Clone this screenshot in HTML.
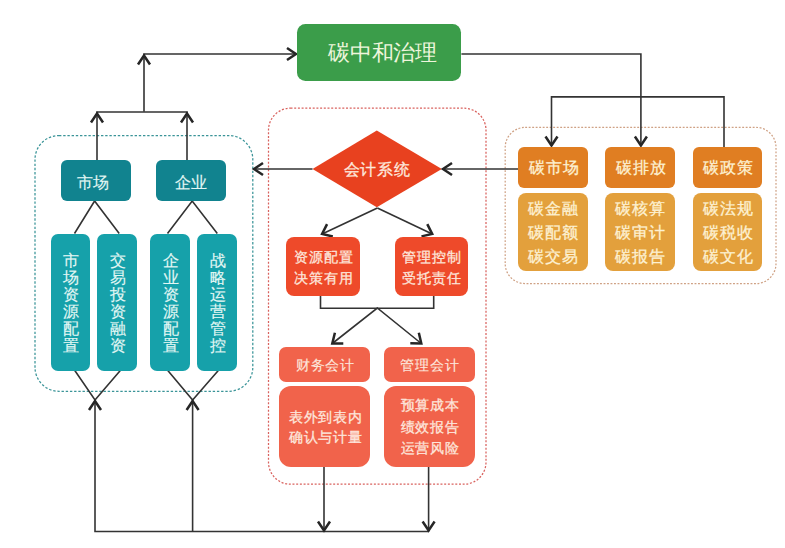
<!DOCTYPE html>
<html><head><meta charset="utf-8"><style>
html,body{margin:0;padding:0;background:#fff;}
body{width:785px;height:548px;position:relative;overflow:hidden;font-family:"Liberation Sans",sans-serif;}
svg{position:absolute;left:0;top:0;}
.b,.t{position:absolute;display:flex;align-items:center;justify-content:center;text-align:center;box-sizing:border-box;}
.t{line-height:1;}
</style></head><body>
<svg width="785" height="548" viewBox="0 0 785 548">
<rect x="35" y="135.5" width="217.8" height="255.8" rx="24" ry="24" fill="none" stroke="#3a9498" stroke-width="1.25" stroke-dasharray="2.4 1.8"/>
<rect x="268.5" y="108.2" width="217.5" height="376.0" rx="22" ry="22" fill="none" stroke="#d9625e" stroke-width="1.25" stroke-dasharray="2 1.7"/>
<rect x="505.2" y="127.4" width="270.8" height="156.20000000000002" rx="20" ry="20" fill="none" stroke="#cfa184" stroke-width="1.25" stroke-dasharray="1.9 1.6"/>
<polygon points="312.5,169 376.8,130.5 441.8,169 376.8,207.3" fill="#e8411f"/>
<polyline points="144,111.8 144,54 296.6,54" fill="none" stroke="#333333" stroke-width="1.6"/>
<polyline points="287,48 296,54 287,60" fill="none" stroke="#262626" stroke-width="2.5" stroke-linejoin="miter"/>
<polyline points="138,64.5 144,55.5 150,64.5" fill="none" stroke="#262626" stroke-width="2.5" stroke-linejoin="miter"/>
<polyline points="97,160.3 97,112 187,112 187,160.3" fill="none" stroke="#333333" stroke-width="1.6"/>
<polyline points="91,122.5 97,113.5 103,122.5" fill="none" stroke="#262626" stroke-width="2.5" stroke-linejoin="miter"/>
<polyline points="181,122.5 187,113.5 193,122.5" fill="none" stroke="#262626" stroke-width="2.5" stroke-linejoin="miter"/>
<polyline points="461.4,54 640.9,54 640.9,146" fill="none" stroke="#333333" stroke-width="1.6"/>
<polyline points="634.9,136.5 640.9,145.5 646.9,136.5" fill="none" stroke="#262626" stroke-width="2.5" stroke-linejoin="miter"/>
<polyline points="551.5,146 551.5,96.9 724,96.9 724,147.3" fill="none" stroke="#333333" stroke-width="1.6"/>
<polyline points="545.5,136.5 551.5,145.5 557.5,136.5" fill="none" stroke="#262626" stroke-width="2.5" stroke-linejoin="miter"/>
<polyline points="312.5,169 253.5,169" fill="none" stroke="#333333" stroke-width="1.6"/>
<polyline points="263,163 254,169 263,175" fill="none" stroke="#262626" stroke-width="2.5" stroke-linejoin="miter"/>
<polyline points="518.2,169 442,169" fill="none" stroke="#333333" stroke-width="1.6"/>
<polyline points="452,163 443,169 452,175" fill="none" stroke="#262626" stroke-width="2.5" stroke-linejoin="miter"/>
<polyline points="377.4,208 322.1,234" fill="none" stroke="#333333" stroke-width="1.6"/>
<polyline points="377.4,208 432.2,234" fill="none" stroke="#333333" stroke-width="1.6"/>
<polyline points="332.83,236.44 322.1,234 327.06,224.18" fill="none" stroke="#262626" stroke-width="2.5" stroke-linejoin="miter"/>
<polyline points="427.27,224.17 432.2,234 421.47,236.40" fill="none" stroke="#262626" stroke-width="2.5" stroke-linejoin="miter"/>
<polyline points="74.5,233.5 94.6,201 119.2,233.5" fill="none" stroke="#333333" stroke-width="1.6"/>
<polyline points="167.5,233.5 192.2,201 217.3,233.5" fill="none" stroke="#333333" stroke-width="1.6"/>
<polyline points="74.8,370.5 95,400 120.3,370.5" fill="none" stroke="#333333" stroke-width="1.6"/>
<polyline points="167.8,370.5 192.6,400 218.3,370.5" fill="none" stroke="#333333" stroke-width="1.6"/>
<polyline points="95,400 95,531.5 428.6,531.5" fill="none" stroke="#333333" stroke-width="1.6"/>
<polyline points="192.6,400 192.6,531.5" fill="none" stroke="#333333" stroke-width="1.6"/>
<polyline points="89,410 95,401 101,410" fill="none" stroke="#262626" stroke-width="2.5" stroke-linejoin="miter"/>
<polyline points="186.6,410 192.6,401 198.6,410" fill="none" stroke="#262626" stroke-width="2.5" stroke-linejoin="miter"/>
<polyline points="320.5,295.5 320.5,308.2 433.7,308.2 433.7,295.5" fill="none" stroke="#333333" stroke-width="1.6"/>
<polyline points="332.3,343.5 377.3,308 421.3,343.5" fill="none" stroke="#333333" stroke-width="1.6"/>
<polyline points="343.30,343.45 332.3,343.5 334.91,332.81" fill="none" stroke="#262626" stroke-width="2.5" stroke-linejoin="miter"/>
<polyline points="418.81,332.79 421.3,343.5 410.30,343.33" fill="none" stroke="#262626" stroke-width="2.5" stroke-linejoin="miter"/>
<polyline points="324,467 324,531.5" fill="none" stroke="#333333" stroke-width="1.6"/>
<polyline points="428.6,467 428.6,531.5" fill="none" stroke="#333333" stroke-width="1.6"/>
<polyline points="318,521.5 324,530.5 330,521.5" fill="none" stroke="#262626" stroke-width="2.5" stroke-linejoin="miter"/>
<polyline points="422.6,521.5 428.6,530.5 434.6,521.5" fill="none" stroke="#262626" stroke-width="2.5" stroke-linejoin="miter"/>
</svg>
<div class="b" style="left:296.5px;top:23.7px;width:164.89999999999998px;height:57.5px;background:#3b9d4a;border-radius:8.5px;font-size:22px;color:#eef5dc;line-height:1;letter-spacing:-0.2px;-webkit-text-stroke:0px currentColor;"><span style="transform:translate(3.5px,0.6px)">碳中和治理</span></div>
<div class="b" style="left:60.7px;top:160.3px;width:70.3px;height:40.69999999999999px;background:#11838f;border-radius:6px;font-size:16px;color:#e2f7f4;line-height:1;letter-spacing:0px;-webkit-text-stroke:0.15px currentColor;"><span style="transform:translate(-2.5px,1.6px)">市场</span></div>
<div class="b" style="left:156px;top:160.3px;width:70px;height:40.69999999999999px;background:#11838f;border-radius:6px;font-size:16px;color:#e2f7f4;line-height:1;letter-spacing:0px;-webkit-text-stroke:0.15px currentColor;"><span style="transform:translate(-0.5px,1.6px)">企业</span></div>
<div class="b" style="left:50.5px;top:234px;width:39.8px;height:136.60000000000002px;background:#16a1aa;border-radius:7px;font-size:16px;color:#e2f7f4;line-height:17px;letter-spacing:0px;-webkit-text-stroke:0.15px currentColor;"><span style="transform:translate(0.4px,1.2px)">市<br>场<br>资<br>源<br>配<br>置</span></div>
<div class="b" style="left:97.4px;top:234px;width:39.79999999999998px;height:136.60000000000002px;background:#16a1aa;border-radius:7px;font-size:16px;color:#e2f7f4;line-height:17px;letter-spacing:0px;-webkit-text-stroke:0.15px currentColor;"><span style="transform:translate(0.4px,1.2px)">交<br>易<br>投<br>资<br>融<br>资</span></div>
<div class="b" style="left:150.4px;top:234px;width:39.79999999999998px;height:136.60000000000002px;background:#16a1aa;border-radius:7px;font-size:16px;color:#e2f7f4;line-height:17px;letter-spacing:0px;-webkit-text-stroke:0.15px currentColor;"><span style="transform:translate(0.4px,1.2px)">企<br>业<br>资<br>源<br>配<br>置</span></div>
<div class="b" style="left:197.4px;top:234px;width:39.79999999999998px;height:136.60000000000002px;background:#16a1aa;border-radius:7px;font-size:16px;color:#e2f7f4;line-height:17px;letter-spacing:0px;-webkit-text-stroke:0.15px currentColor;"><span style="transform:translate(0.4px,1.2px)">战<br>略<br>运<br>营<br>管<br>控</span></div>
<div class="b" style="left:518.2px;top:147.3px;width:69.5px;height:40.29999999999998px;background:#e07e22;border-radius:6px;font-size:16px;color:#fdf1d2;line-height:1;letter-spacing:1px;-webkit-text-stroke:0.3px currentColor;"><span style="transform:translate(1.3px,1.2px)">碳市场</span></div>
<div class="b" style="left:518.2px;top:193.2px;width:69.5px;height:77.80000000000001px;background:#e3a03c;border-radius:8px;font-size:16.2px;color:#fdf1d2;line-height:23.8px;letter-spacing:1px;-webkit-text-stroke:0.3px currentColor;"><span style="transform:translate(0.8px,1.2px)">碳金融<br>碳配额<br>碳交易</span></div>
<div class="b" style="left:605.3px;top:147.3px;width:69.5px;height:40.29999999999998px;background:#e07e22;border-radius:6px;font-size:16px;color:#fdf1d2;line-height:1;letter-spacing:1px;-webkit-text-stroke:0.3px currentColor;"><span style="transform:translate(1.3px,1.2px)">碳排放</span></div>
<div class="b" style="left:605.3px;top:193.2px;width:69.5px;height:77.80000000000001px;background:#e3a03c;border-radius:8px;font-size:16.2px;color:#fdf1d2;line-height:23.8px;letter-spacing:1px;-webkit-text-stroke:0.3px currentColor;"><span style="transform:translate(0.8px,1.2px)">碳核算<br>碳审计<br>碳报告</span></div>
<div class="b" style="left:692.5px;top:147.3px;width:69.5px;height:40.29999999999998px;background:#e07e22;border-radius:6px;font-size:16px;color:#fdf1d2;line-height:1;letter-spacing:1px;-webkit-text-stroke:0.3px currentColor;"><span style="transform:translate(1.3px,1.2px)">碳政策</span></div>
<div class="b" style="left:692.5px;top:193.2px;width:69.5px;height:77.80000000000001px;background:#e3a03c;border-radius:8px;font-size:16.2px;color:#fdf1d2;line-height:23.8px;letter-spacing:1px;-webkit-text-stroke:0.3px currentColor;"><span style="transform:translate(0.8px,1.2px)">碳法规<br>碳税收<br>碳文化</span></div>
<div class="b" style="left:286.4px;top:237.1px;width:73.90000000000003px;height:58.599999999999994px;background:#ee4a2a;border-radius:8px;font-size:14.2px;color:#fde6dc;line-height:21.5px;letter-spacing:0.9px;-webkit-text-stroke:0.3px currentColor;"><span style="transform:translate(0.5px,1.6px)">资源配置<br>决策有用</span></div>
<div class="b" style="left:394.6px;top:237.1px;width:73.89999999999998px;height:58.599999999999994px;background:#ee4a2a;border-radius:8px;font-size:14.2px;color:#fde6dc;line-height:21.5px;letter-spacing:0.9px;-webkit-text-stroke:0.3px currentColor;"><span style="transform:translate(0.5px,1.6px)">管理控制<br>受托责任</span></div>
<div class="b" style="left:279.4px;top:347.2px;width:90.90000000000003px;height:35.10000000000002px;background:#f1634b;border-radius:7px;font-size:13.8px;color:#fde6dc;line-height:1;letter-spacing:0.85px;-webkit-text-stroke:0.15px currentColor;"><span style="transform:translate(0.6px,0.8px)">财务会计</span></div>
<div class="b" style="left:383.7px;top:347.2px;width:91.0px;height:35.10000000000002px;background:#f1634b;border-radius:7px;font-size:13.8px;color:#fde6dc;line-height:1;letter-spacing:0.85px;-webkit-text-stroke:0.15px currentColor;"><span style="transform:translate(0.6px,0.8px)">管理会计</span></div>
<div class="b" style="left:279.4px;top:385.5px;width:90.90000000000003px;height:81.5px;background:#f1634b;border-radius:12px;font-size:14px;color:#fde6dc;line-height:20.6px;letter-spacing:0.75px;-webkit-text-stroke:0.3px currentColor;"><span style="transform:translate(0.8px,0.6px)">表外到表内<br>确认与计量</span></div>
<div class="b" style="left:383.7px;top:385.5px;width:91.0px;height:81.5px;background:#f1634b;border-radius:12px;font-size:14.2px;color:#fde6dc;line-height:21.5px;letter-spacing:0.7px;-webkit-text-stroke:0.3px currentColor;"><span style="transform:translate(0.8px,1.0px)">预算成本<br>绩效报告<br>运营风险</span></div>
<div class="t" style="left:312px;top:150px;width:130px;height:38px;font-size:15.8px;color:#fde8dd;letter-spacing:0.6px;padding-top:1.5px;-webkit-text-stroke:0.3px currentColor">会计系统</div>
</body></html>
